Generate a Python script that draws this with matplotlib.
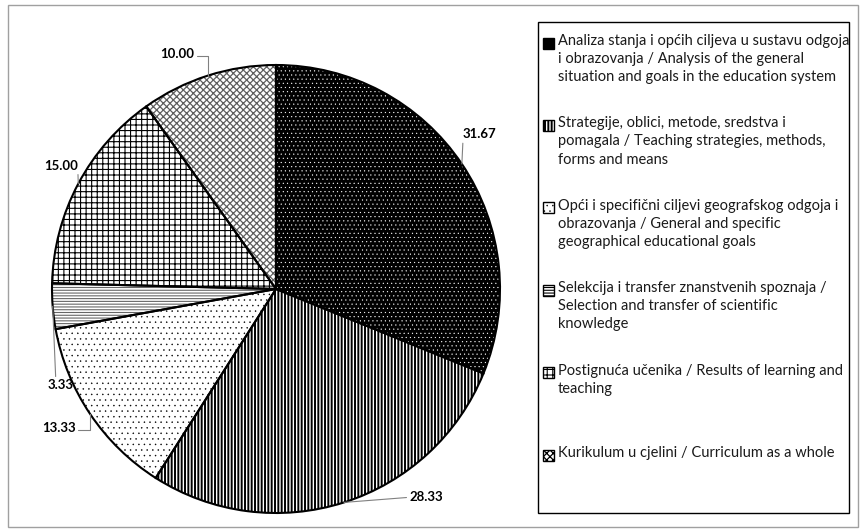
import numpy as np
import matplotlib.pyplot as plt
import matplotlib.patches as mpatches

plt.rcParams['font.family'] = ['Lato', 'DejaVu Sans']
plt.rcParams['hatch.linewidth'] = 1.0

# values (clockwise from 12 o'clock)
values = [31.67, 28.33, 13.33, 3.33, 15.00, 10.00]
value_labels = ['31.67', '28.33', '13.33', '3.33', '15.00', '10.00']
categories = [
    'Analiza stanja i općih ciljeva u sustavu odgoja\ni obrazovanja / Analysis of the general\nsituation and goals in the education system',
    'Strategije, oblici, metode, sredstva i\npomagala / Teaching strategies, methods,\nforms and means',
    'Opći i specifični ciljevi geografskog odgoja i\nobrazovanja / General and specific\ngeographical educational goals',
    'Selekcija i transfer znanstvenih spoznaja /\nSelection and transfer of scientific\nknowledge',
    'Postignuća učenika / Results of learning and\nteaching',
    'Kurikulum u cjelini / Curriculum as a whole',
]

# styles
face_colors = ['black', 'white', 'white', 'white', 'white', 'white']
hatch_colors = ['white', 'black', 'black', '#666666', 'black', '#606060']
hatches = ['....', '|||||', '...', '------', '+++', 'xxxxx']
hatch_lws = [0.3, 1.4, 0.3, 0.8, 0.8, 0.9]

# label text positions (pie radius = 1) and leader styles
label_pos = [(0.91, 0.69), (0.67, -0.93), (-0.97, -0.62), (-0.96, -0.43), (-0.96, 0.55), (-0.44, 1.05)]
label_rel = [(0.0, 0.0), (0.0, 0.5), (1.0, 0.3), (0.3, 1.0), (1.0, 0.0), (1.0, 0.3)]
label_conn = ['arc3', 'arc3', 'angle,angleA=0,angleB=90,rad=0', 'arc3', 'arc3',
              'angle,angleA=0,angleB=90,rad=0']

W, H = 864, 532
fig = plt.figure(figsize=(W / 100, H / 100), dpi=100)
fig.patch.set_facecolor('white')

# outer chart border
fig.patches.append(mpatches.Rectangle((8 / W, 5 / H), 850 / W, 522 / H, transform=fig.transFigure,
                                      fill=False, edgecolor='#a0a0a0', linewidth=1))

R = 224
ax = fig.add_axes([(276 - R) / W, (H - 289 - R) / H, 2 * R / W, 2 * R / H])


def style_hatch(patch, i):
    patch.set_hatch(hatches[i])
    if hasattr(patch, 'set_hatch_linewidth'):
        patch.set_hatch_linewidth(hatch_lws[i])


wedges, _ = ax.pie(values, startangle=90, counterclock=False, colors=face_colors,
                   wedgeprops=dict(linewidth=0))
for i, w in enumerate(wedges):
    style_hatch(w, i)
    w.set_edgecolor(hatch_colors[i])

# black outlines on top of the hatches
ax.pie(values, startangle=90, counterclock=False,
       wedgeprops=dict(fill=False, edgecolor='black', linewidth=1.5))

for w, txt, pos, rp, cs in zip(wedges, value_labels, label_pos, label_rel, label_conn):
    ang = np.deg2rad((w.theta1 + w.theta2) / 2)
    ax.annotate(txt, xy=(np.cos(ang), np.sin(ang)), xytext=pos, textcoords='data',
                ha='center', va='center', fontsize=9.5, fontweight='bold',
                arrowprops=dict(arrowstyle='-', color='#808080', lw=0.8,
                                shrinkA=0, shrinkB=0, relpos=rp, connectionstyle=cs))

ax.set_xlim(-1, 1)
ax.set_ylim(-1, 1)
ax.set_aspect('equal')
ax.axis('off')

# legend box drawn by hand (Excel spreads entries evenly)
fig.patches.append(mpatches.Rectangle((538 / W, (H - 513) / H), 311 / W, 491 / H,
                                      transform=fig.transFigure, fill=False,
                                      edgecolor='black', linewidth=1))
for i, cat in enumerate(categories):
    yc = 43 + i * 82.4
    key = mpatches.Rectangle((543 / W, (H - yc - 5.5) / H), 11 / W, 11 / H,
                             transform=fig.transFigure, facecolor=face_colors[i],
                             edgecolor='black', linewidth=1)
    style_hatch(key, i)
    fig.patches.append(key)
    fig.text(558 / W, (H - yc + 9) / H, cat, ha='left', va='top', fontsize=10.5,
             linespacing=1.37, color='#1a1a1a')

fig.savefig('out.png', dpi=100, facecolor='white')
